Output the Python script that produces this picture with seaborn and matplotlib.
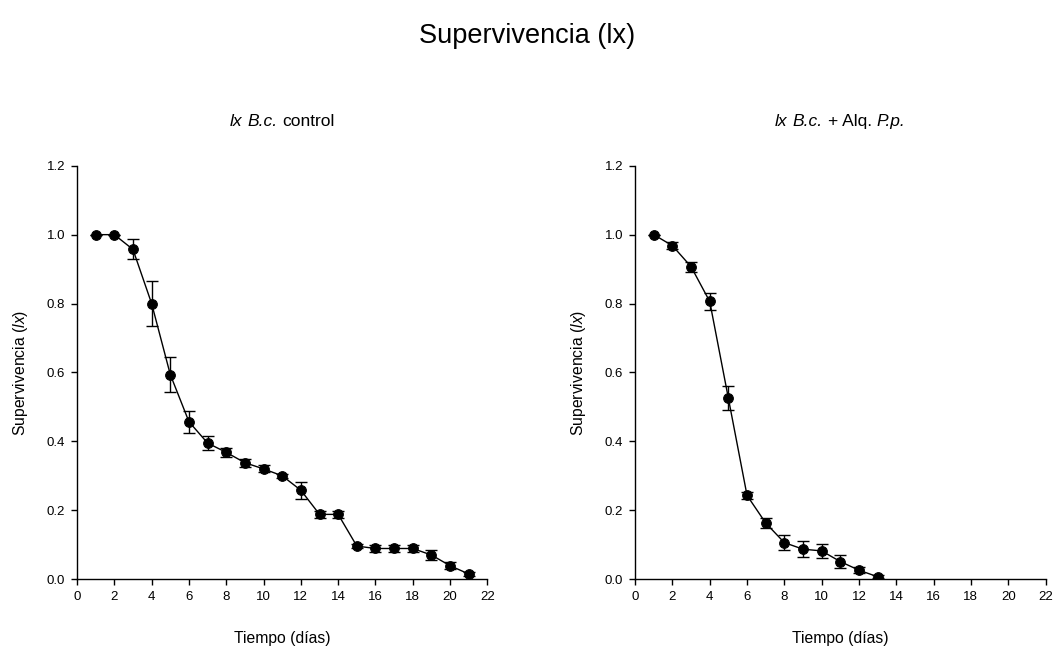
import matplotlib
matplotlib.use("Agg")
import matplotlib.pyplot as plt
import seaborn as sns
import pandas as pd

# Data
dias_control = [1, 2, 3, 4, 5, 6, 7, 8, 9, 10, 11, 12, 13, 14, 15, 16, 17, 18, 19, 20, 21]
lx_control = [1.0, 1.0, 0.957, 0.80, 0.594, 0.457, 0.395, 0.368, 0.338, 0.32, 0.30, 0.258,
              0.188, 0.188, 0.096, 0.089, 0.089, 0.089, 0.07, 0.039, 0.015]
err_control = [0.0, 0.0, 0.029, 0.065, 0.052, 0.032, 0.021, 0.012, 0.012, 0.01, 0.005, 0.025,
               0.011, 0.011, 0.005, 0.01, 0.01, 0.01, 0.015, 0.01, 0.007]

dias_alq = [1, 2, 3, 4, 5, 6, 7, 8, 9, 10, 11, 12, 13]
lx_alq = [1.0, 0.968, 0.907, 0.806, 0.525, 0.243, 0.163, 0.106, 0.087, 0.082, 0.051, 0.026, 0.007]
err_alq = [0.0, 0.011, 0.015, 0.025, 0.035, 0.011, 0.015, 0.021, 0.024, 0.02, 0.02, 0.008, 0.004]

x_ticks = list(range(0, 23, 2))
y_ticks = [0.0, 0.2, 0.4, 0.6, 0.8, 1.0, 1.2]

titulo_control = [("lx", True), ("B.c.", True), ("control", False)]
titulo_alq = [("lx", True), ("B.c.", True), ("+ Alq.", False), ("P.p.", True)]

sns.set_theme(style="white")
plt.rcParams['font.family'] = ['Liberation Sans', 'DejaVu Sans']
plt.rcParams['mathtext.fontset'] = 'custom'
plt.rcParams['mathtext.rm'] = 'Liberation Sans'
plt.rcParams['mathtext.it'] = 'Liberation Sans:italic'

W, H = 1055, 650
fig = plt.figure(figsize=(W / 100, H / 100), dpi=100)
ax1 = fig.add_axes([0.073, 0.109, 0.389, 0.636])
ax2 = fig.add_axes([0.602, 0.109, 0.389, 0.636])

panels = [
    (ax1, dias_control, lx_control, err_control, titulo_control),
    (ax2, dias_alq, lx_alq, err_alq, titulo_alq),
]

renderer = fig.canvas.get_renderer()


def rich_title(ax, pieces, baseline_px, fontsize=11, gap_px=5):
    texts = []
    for s, it in pieces:
        t = fig.text(0, 1 - baseline_px / H, s, fontsize=fontsize,
                     style='italic' if it else 'normal', ha='left', va='baseline',
                     color='black')
        texts.append(t)
    widths = [t.get_window_extent(renderer).width for t in texts]
    total = sum(widths) + gap_px * (len(texts) - 1)
    bb = ax.get_position()
    cx = (bb.x0 + bb.width / 2) * W
    x = cx - total / 2
    for t, w in zip(texts, widths):
        t.set_x(x / W)
        x += w + gap_px


for ax, x, y, e, title in panels:
    df = pd.DataFrame({"dia": x, "lx": y})
    ax.errorbar(x, y, yerr=e, fmt='none', ecolor='black', elinewidth=1,
                capsize=4, capthick=1, zorder=2)
    sns.lineplot(data=df, x="dia", y="lx", ax=ax, color='black', linewidth=1,
                 marker='o', markersize=7, markeredgecolor='black',
                 markerfacecolor='black', zorder=3)
    ax.set_xlim(0, 22)
    ax.set_ylim(0, 1.2)
    ax.set_xticks(x_ticks)
    ax.set_yticks(y_ticks)
    ax.set_yticklabels([f"{v:.1f}" for v in y_ticks])
    ax.tick_params(axis='both', which='major', direction='out', length=4.5,
                   width=1, color='black', labelsize=9.5, labelcolor='black',
                   bottom=True, left=True, pad=4)
    for s in ['top', 'right']:
        ax.spines[s].set_visible(False)
    for s in ['left', 'bottom']:
        ax.spines[s].set_color('black')
        ax.spines[s].set_linewidth(1)
    ax.set_xlabel("Tiempo (días)", fontsize=11.3, labelpad=20, color='black')
    ax.set_ylabel(r"Supervivencia ($\it{lx}$)", fontsize=11.3, labelpad=12, color='black')
    ax.grid(False)
    rich_title(ax, title, 126, fontsize=12.5, gap_px=5)

fig.text(0.5, 1 - 43 / H, "Supervivencia (lx)", ha='center', va='baseline',
         fontsize=19.5, color='black')

fig.savefig("out.png", dpi=100, facecolor='white')
